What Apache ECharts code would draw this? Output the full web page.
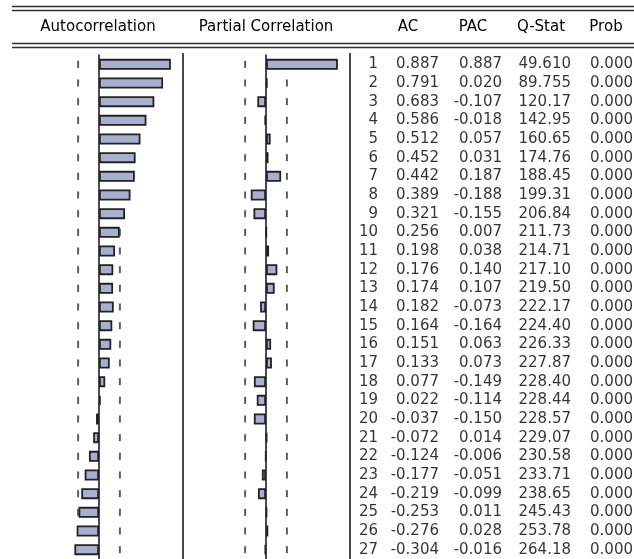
<!DOCTYPE html>
<html>
<head>
<meta charset="utf-8">
<script src="https://cdn.jsdelivr.net/npm/echarts@6/dist/echarts.min.js"></script>
<style>
  html, body { margin: 0; padding: 0; background: #fff; }
  #chart { width: 634px; height: 559px; }
</style>
</head>
<body>
<div id="chart"></div>
<script>
// correlogram values
var lags = ['1','2','3','4','5','6','7','8','9','10','11','12','13','14','15','16','17','18','19','20','21','22','23','24','25','26','27'];
var ac = [0.887, 0.791, 0.683, 0.586, 0.512, 0.452, 0.442, 0.389, 0.321, 0.256, 0.198, 0.176, 0.174, 0.182,
          0.164, 0.151, 0.133, 0.077, 0.022, -0.037, -0.072, -0.124, -0.177, -0.219, -0.253, -0.276, -0.304];
var pac = [0.887, 0.020, -0.107, -0.018, 0.057, 0.031, 0.187, -0.188, -0.155, 0.007, 0.038, 0.140, 0.107, -0.073,
           -0.164, 0.063, 0.073, -0.149, -0.114, -0.150, 0.014, -0.006, -0.051, -0.099, 0.011, 0.028, -0.016];
var qstat = [49.610, 89.755, 120.17, 142.95, 160.65, 174.76, 188.45, 199.31, 206.84, 211.73, 214.71, 217.10, 219.50, 222.17,
             224.40, 226.33, 227.87, 228.40, 228.44, 228.57, 229.07, 230.58, 233.71, 238.65, 245.43, 253.78, 264.18];
var prob = [0.000, 0.000, 0.000, 0.000, 0.000, 0.000, 0.000, 0.000, 0.000, 0.000, 0.000, 0.000, 0.000, 0.000,
            0.000, 0.000, 0.000, 0.000, 0.000, 0.000, 0.000, 0.000, 0.000, 0.000, 0.000, 0.000, 0.000];
var bound = 0.258;  // approx 2/sqrt(T)
var headers = ['Autocorrelation', 'Partial Correlation', 'AC', 'PAC', 'Q-Stat', 'Prob'];

// layout: right edge (px) of each text column
var colRight = [378, 439, 502, 571, 633];
var headerX = [98, 266, 408, 473, 541, 606];

var FONT = '"DejaVu Sans", sans-serif';
var TXT = '#000000';

var chart = echarts.init(document.getElementById('chart'), null, { renderer: 'canvas' });

function panelX(gi) {
  return {
    type: 'value', gridIndex: gi, min: -1, max: 1,
    axisLine: { show: false }, axisTick: { show: false },
    axisLabel: { show: false }, splitLine: { show: false }
  };
}
function panelY(gi) {
  return {
    type: 'category', gridIndex: gi, data: lags, inverse: true,
    axisLine: { show: true, onZero: true, lineStyle: { color: '#1e1e1e', width: 1.6 } },
    axisTick: { show: false }, axisLabel: { show: false }, splitLine: { show: false }
  };
}

function bars(values, gi) {
  return {
    type: 'bar', xAxisIndex: gi, yAxisIndex: gi, data: values,
    barWidth: 11, z: 3,
    itemStyle: { color: '#a9afce', borderColor: '#222222', borderWidth: 1.8 }
  };
}
function bounds(gi) {
  var pts = [];
  lags.forEach(function (l) { pts.push([-bound, l]); pts.push([bound, l]); });
  return {
    type: 'scatter', xAxisIndex: gi, yAxisIndex: gi, data: pts,
    symbol: 'rect', symbolSize: [2, 7], z: 2,
    itemStyle: { color: '#333333' }
  };
}
function column(ci, texts) {
  return {
    type: 'scatter', xAxisIndex: 2, yAxisIndex: 2,
    data: lags.map(function (l, i) { return { value: [colRight[ci], l], txt: texts[i] }; }),
    symbolSize: 0,
    label: {
      show: true, position: 'left', distance: 0,
      fontFamily: FONT, fontSize: 15, color: TXT,
      formatter: function (p) { return p.data.txt; }
    }
  };
}

var hline = function (y) {
  return { type: 'line', shape: { x1: 12, y1: y, x2: 634, y2: y }, style: { stroke: '#2e2e2e', lineWidth: 1.4 }, silent: true };
};
var vline = function (x) {
  return { type: 'line', shape: { x1: x, y1: 53, x2: x, y2: 559 }, style: { stroke: '#4a4a4a', lineWidth: 2 }, silent: true };
};

var graphic = [hline(6.5), hline(10.5), hline(43.5), hline(47.5), vline(183), vline(350)];
headers.forEach(function (h, i) {
  graphic.push({
    type: 'text', x: headerX[i], y: 27, silent: true,
    style: { text: h, fontFamily: FONT, fontSize: 15, fill: TXT, align: 'center', verticalAlign: 'middle' }
  });
});

var option = {
  animation: false,
  backgroundColor: '#ffffff',
  grid: [
    { left: 18, width: 162, top: 55, bottom: 0 },
    { left: 185, width: 162, top: 55, bottom: 0 },
    { left: 0, right: 0, top: 55, bottom: 0 }
  ],
  xAxis: [
    panelX(0),
    panelX(1),
    { type: 'value', gridIndex: 2, min: 0, max: 634, show: false }
  ],
  yAxis: [
    panelY(0),
    panelY(1),
    { type: 'category', gridIndex: 2, data: lags, inverse: true, show: false }
  ],
  series: [
    bounds(0),
    bars(ac, 0),
    bounds(1),
    bars(pac, 1),
    column(0, lags),
    column(1, ac.map(function (v) { return v.toFixed(3); })),
    column(2, pac.map(function (v) { return v.toFixed(3); })),
    column(3, qstat.map(function (v) { return v.toPrecision(5); })),
    column(4, prob.map(function (v) { return v.toFixed(3); }))
  ],
  graphic: graphic
};

chart.setOption(option);
</script>
</body>
</html>
